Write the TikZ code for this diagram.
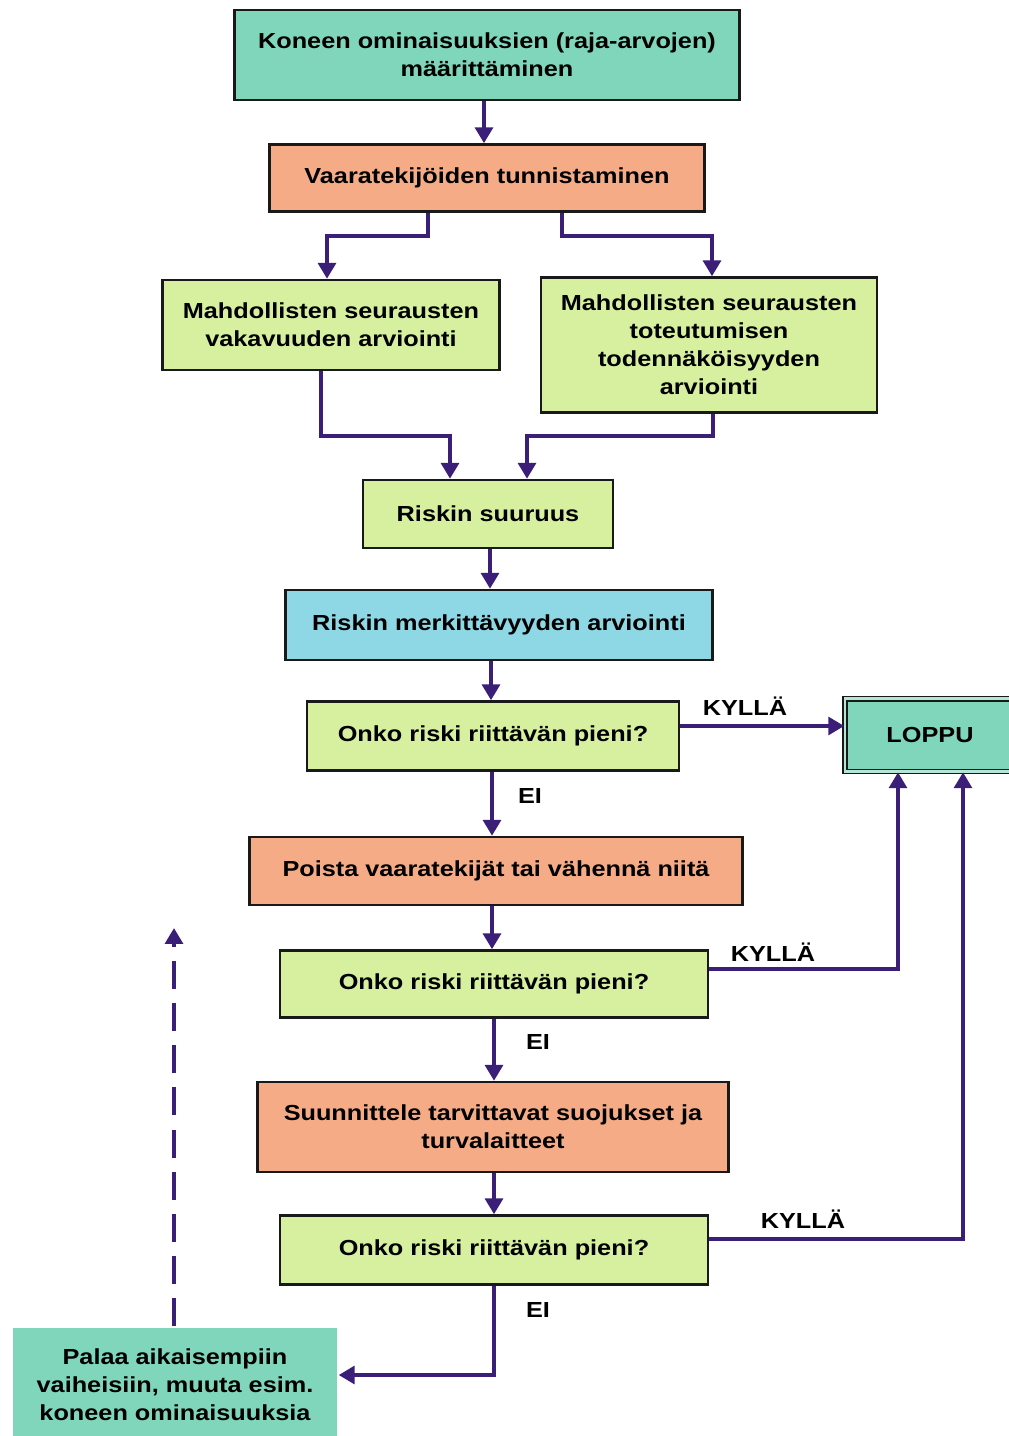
\documentclass[tikz,border=0pt]{standalone}
\usepackage{fontspec}
\setmainfont{Liberation Sans}[FakeStretch=1.16]
\usetikzlibrary{arrows.meta,calc}

\definecolor{tealbox}{RGB}{128,214,186}
\definecolor{orangebox}{RGB}{245,172,134}
\definecolor{greenbox}{RGB}{214,240,160}
\definecolor{bluebox}{RGB}{142,216,230}
\definecolor{arrowc}{RGB}{58,30,120}

\begin{document}
\begin{tikzpicture}[x=0.02cm, y=-0.02cm,
        box/.style={draw=black!90, line width=1.4pt, align=center, inner sep=2pt,
            font=\bfseries\fontsize{12.4}{16}\selectfont},
        arr/.style={draw=arrowc, line width=2.4pt, -{Triangle[length=9pt,width=10pt]}},
        lbl/.style={font=\bfseries\fontsize{12.4}{14}\selectfont}]
        \useasboundingbox (0, 0) rectangle (1008, 1436);

        % boxes
        \node[box, fill=tealbox, minimum width=10.1cm, minimum height=1.8cm] (maar) at (487, 55)
            {Koneen ominaisuuksien (raja-arvojen)\\määrittäminen};
        \node[box, fill=orangebox, minimum width=8.7cm, minimum height=1.34cm] (tunn) at (487, 178)
            {Vaaratekijöiden tunnistaminen};
        \node[box, fill=greenbox, minimum width=6.74cm, minimum height=1.8cm] (vaka) at (331, 325)
            {Mahdollisten seurausten\\vakavuuden arviointi};
        \node[box, fill=greenbox, minimum width=6.72cm, minimum height=2.7cm] (todn) at (709, 345)
            {Mahdollisten seurausten\\toteutumisen\\todennäköisyyden\\arviointi};
        \node[box, fill=greenbox, minimum width=5cm, minimum height=1.36cm] (suur) at (488, 514)
            {Riskin suuruus};
        \node[box, fill=bluebox, minimum width=8.54cm, minimum height=1.4cm] (merk) at (499, 625)
            {Riskin merkittävyyden arviointi};
        \node[box, fill=greenbox, minimum width=7.44cm, minimum height=1.38cm] (kysA) at (493, 736)
            {Onko riski riittävän pieni?};
        \node[box, fill=tealbox, line width=0.9pt, double=tealbox!60!white, double distance=1.6pt,
            minimum width=3.4cm, minimum height=1.46cm] (loppu) at (930, 735) {LOPPU};
        \node[box, fill=orangebox, minimum width=9.86cm, minimum height=1.36cm] (pois) at (496, 871)
            {Poista vaaratekijät tai vähennä niitä};
        \node[box, fill=greenbox, minimum width=8.56cm, minimum height=1.34cm] (kysB) at (494, 984)
            {Onko riski riittävän pieni?};
        \node[box, fill=orangebox, minimum width=9.42cm, minimum height=1.8cm] (suun) at (493, 1127)
            {Suunnittele tarvittavat suojukset ja\\turvalaitteet};
        \node[box, fill=greenbox, minimum width=8.56cm, minimum height=1.38cm] (kysC) at (494, 1250)
            {Onko riski riittävän pieni?};
        \node[box, draw=none, fill=tealbox, minimum width=6.5cm, minimum height=2.3cm] (palaa) at (175, 1385)
            {Palaa aikaisempiin\\vaiheisiin, muuta esim.\\koneen ominaisuuksia};

        % labels
        \node[lbl] (kyllaA) at (745, 706) {KYLLÄ};
        \node[lbl] (kyllaB) at (773, 952) {KYLLÄ};
        \node[lbl] (kyllaC) at (803, 1219) {KYLLÄ};
        \node[lbl] (eiA) at (530, 796) {EI};
        \node[lbl] (eiB) at (538, 1042) {EI};
        \node[lbl] (eiC) at (538, 1310) {EI};
        \coordinate (ylos) at (174, 928);

        % connectors
        \draw[arr] ($(maar.south)+(-3,0)$) -- ($(tunn.north)+(-3,0)$);
        \draw[arr] ($(tunn.south)+(-59,0)$) -- ++(0, 23) -| ($(vaka.north)+(-4,0)$);
        \draw[arr] ($(tunn.south)+(75,0)$) -- ++(0, 23) -| ($(todn.north)+(3,0)$);
        \draw[arr] ($(vaka.south)+(-10,0)$) -- ++(0, 65) -| ($(suur.north)+(-38,0)$);
        \draw[arr] ($(todn.south)+(4,0)$) -- ++(0, 22) -| ($(suur.north)+(39,0)$);
        \draw[arr] ($(suur.south)+(2,0)$) -- ($(merk.north)+(-9,0)$);
        \draw[arr] ($(merk.south)+(-8,0)$) -- ($(kysA.north)+(-2,0)$);
        \draw[arr] ($(kysA.east)+(0,-10)$) -- ($(loppu.west)+(0,-9)$);
        \draw[arr] ($(kysA.south)+(-1,0)$) -- ($(pois.north)+(-4,0)$);
        \draw[arr] ($(pois.south)+(-4,0)$) -- ($(kysB.north)+(-2,0)$);
        \draw[arr] ($(kysB.east)+(0,-15)$) -| ($(loppu.south)+(-32,0)$);
        \draw[arr] (kysB.south) -- ($(suun.north)+(1,0)$);
        \draw[arr] ($(suun.south)+(1,0)$) -- (kysC.north);
        \draw[arr] ($(kysC.east)+(0,-11)$) -| ($(loppu.south)+(33,0)$);
        \draw[arr] (kysC.south) |- ($(palaa.east)+(0,-10)$);
        \draw[arr, dash pattern=on 16pt off 8pt] (palaa.north -| ylos) -- (ylos);
\end{tikzpicture}
\end{document}
